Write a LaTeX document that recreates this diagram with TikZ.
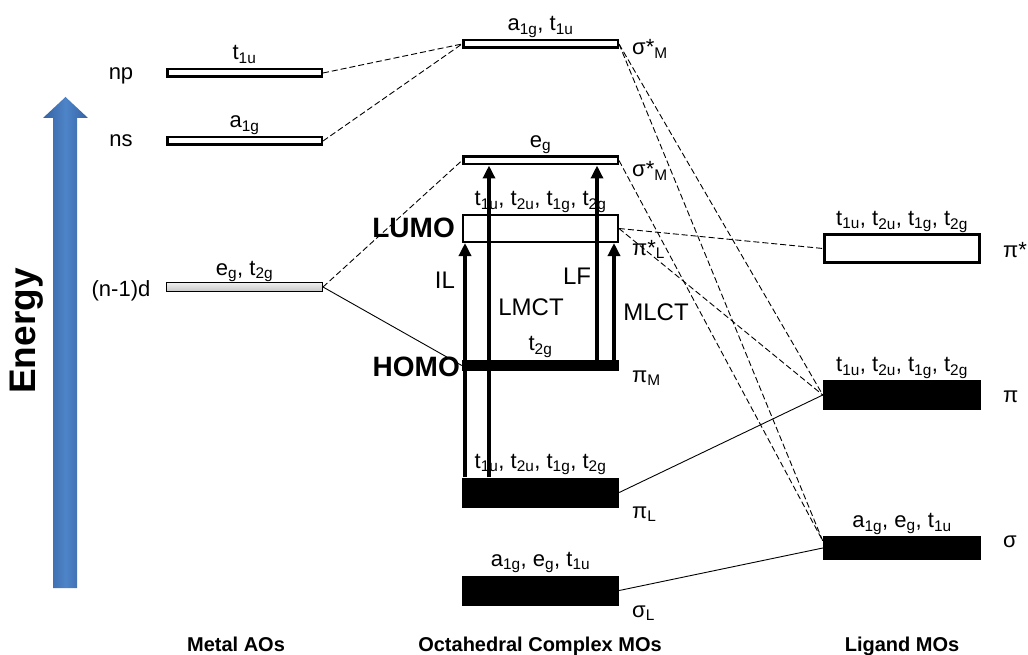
\documentclass[tikz,border=0pt]{standalone}
\usepackage{fontspec}
\setmainfont{Liberation Sans}
\usetikzlibrary{arrows.meta}
\definecolor{blueL}{RGB}{78,132,200}
\definecolor{blueD}{RGB}{52,98,164}
\newcommand\sbs[1]{\textsubscript{#1}}
\begin{document}
\begin{tikzpicture}[x=1pt,y=-1pt,
  lvlopen/.style={draw=black, line width=2.5pt, fill=white, inner sep=0pt, minimum width=154.5pt, minimum height=7.5pt},
  lvlblack/.style={draw=none, fill=black, inner sep=0pt, minimum width=157pt},
  lab/.style={font=\fontsize{22}{26}\selectfont, inner sep=0pt},
  arrlab/.style={font=\fontsize{24}{28}\selectfont, inner sep=0pt},
  bigbold/.style={font=\fontsize{28}{32}\selectfont\bfseries, inner sep=0pt},
  title/.style={font=\fontsize{20}{24}\selectfont\bfseries, inner sep=0pt},
  dconn/.style={line width=0.9pt, dash pattern=on 6pt off 3pt},
  sconn/.style={line width=0.9pt},
  trans/.style={line width=4pt, -{Triangle[width=12pt,length=13pt]}}
]
\useasboundingbox (0,0) rectangle (1028,655);

% energy arrow
\shade[left color=blueD, right color=blueD, middle color=blueL]
  (53,588) -- (53,118) -- (43,118) -- (65.5,97) -- (88,118) -- (77,118) -- (77,588) -- cycle;
\node[font=\fontsize{37}{40}\selectfont\bfseries, rotate=90, inner sep=0pt] (energy) at (27,331) {Energy};

% metal AOs
\node[lvlopen] (np) at (244.5,73) {};
\node[lvlopen] (ns) at (244.5,141) {};
\node[draw=black, line width=1pt, top color=gray!12, bottom color=gray!45, inner sep=0pt, minimum width=156pt, minimum height=9pt] (dd) at (244.5,287) {};

% complex MOs
\node[lvlopen] (sA) at (540.5,44) {};
\node[lvlopen] (sE) at (540.5,160.5) {};
\node[lvlopen, line width=2pt, minimum height=27pt, minimum width=155pt] (lumo) at (540.5,228.5) {};
\node[lvlblack, minimum height=11pt] (homo) at (540.5,365.5) {};
\node[lvlblack, minimum height=30pt] (piL) at (540.5,492.5) {};
\node[lvlblack, minimum height=30pt] (sigL) at (540.5,590.5) {};

% ligand MOs
\node[lvlopen, line width=3pt, minimum width=155pt, minimum height=27pt] (pist) at (902,248.5) {};
\node[lvlblack, minimum width=158pt, minimum height=30pt] (pi) at (902,395) {};
\node[lvlblack, minimum width=158pt, minimum height=24pt] (sig) at (902,548) {};

% connectors
\draw[dconn] (np.east) -- (sA.west);
\draw[dconn] (ns.east) -- (sA.west);
\draw[dconn] (dd.east) -- (sE.west);
\draw[sconn] (dd.east) -- (homo.west);
\draw[dconn] (lumo.east) -- (pist.west);
\draw[dconn] (lumo.east) -- (pi.west);
\draw[dconn] (sA.east) -- (pi.west);
\draw[dconn] (sA.east) -- ([yshift=7pt]sig.west);
\draw[dconn] (sE.east) -- ([yshift=7pt]sig.west);
\draw[sconn] (piL.east) -- (pi.west);
\draw[sconn] (sigL.east) -- (sig.west);

% transitions
\coordinate (xIL) at (465,0);
\coordinate (xLMCT) at (489,0);
\coordinate (xLF) at (597,0);
\coordinate (xMLCT) at (614,0);
\draw[trans] (piL.north -| xIL) -- (lumo.south -| xIL);
\draw[trans] (piL.north -| xLMCT) -- (sE.south -| xLMCT);
\draw[trans] (homo.north -| xLF) -- (sE.south -| xLF);
\draw[trans] (homo.north -| xMLCT) -- (lumo.south -| xMLCT);
\node[arrlab] (tIL) at (445,280) {IL};
\node[arrlab] (tLMCT) at (531,307) {LMCT};
\node[arrlab] (tLF) at (577,276) {LF};
\node[arrlab] (tMLCT) at (656,312) {MLCT};

\node[bigbold, anchor=east] (tLUMO) at (455,228) {LUMO};
\node[bigbold, anchor=east] (tHOMO) at (460,367) {HOMO};

% labels above levels
\node[lab, anchor=base] (lnp) at ([yshift=8pt]np.north) {t\sbs{1u}};
\node[lab, anchor=base] (lns) at ([yshift=8pt]ns.north) {a\sbs{1g}};
\node[lab, anchor=base] (ldd) at ([yshift=7pt]dd.north) {e\sbs{g}, t\sbs{2g}};
\node[lab, anchor=base] (lsA) at ([yshift=8pt]sA.north) {a\sbs{1g}, t\sbs{1u}};
\node[lab, anchor=base] (lsE) at ([yshift=8pt]sE.north) {e\sbs{g}};
\node[lab, anchor=base] (llumo) at ([yshift=8pt]lumo.north) {t\sbs{1u}, t\sbs{2u}, t\sbs{1g}, t\sbs{2g}};
\node[lab, anchor=base] (lhomo) at ([yshift=9pt]homo.north) {t\sbs{2g}};
\node[lab, anchor=base] (lpiL) at ([yshift=9pt]piL.north) {t\sbs{1u}, t\sbs{2u}, t\sbs{1g}, t\sbs{2g}};
\node[lab, anchor=base] (lsigL) at ([yshift=9pt]sigL.north) {a\sbs{1g}, e\sbs{g}, t\sbs{1u}};
\node[lab, anchor=base] (lpist) at ([yshift=8pt]pist.north) {t\sbs{1u}, t\sbs{2u}, t\sbs{1g}, t\sbs{2g}};
\node[lab, anchor=base] (lpi) at ([yshift=8pt]pi.north) {t\sbs{1u}, t\sbs{2u}, t\sbs{1g}, t\sbs{2g}};
\node[lab, anchor=base] (lsig) at ([yshift=8pt]sig.north) {a\sbs{1g}, e\sbs{g}, t\sbs{1u}};

% left labels
\node[lab, anchor=base] (nnp) at (121,80) {np};
\node[lab, anchor=base] (nns) at (121,147) {ns};
\node[lab, anchor=base] (ndd) at (121,296) {(n-1)d};

% right labels
\node[lab, anchor=base west] (rsA) at (632,55) {σ*\sbs{M}};
\node[lab, anchor=base west] (rsE) at (632,177) {σ*\sbs{M}};
\node[lab, anchor=base west] (rlumo) at (632,255) {π*\sbs{L}};
\node[lab, anchor=base west] (rhomo) at (632,382) {π\sbs{M}};
\node[lab, anchor=base west] (rpiL) at (632,518) {π\sbs{L}};
\node[lab, anchor=base west] (rsigL) at (632,617) {σ\sbs{L}};
\node[lab, anchor=base west] (rpist) at (1003,257) {π*};
\node[lab, anchor=base west] (rpi) at (1003,402) {π};
\node[lab, anchor=base west] (rsig) at (1003,547) {σ};

% titles
\node[title, anchor=base] (t1) at (236,651) {Metal AOs};
\node[title, anchor=base] (t2) at (540,651) {Octahedral Complex MOs};
\node[title, anchor=base] (t3) at (902,651) {Ligand MOs};
\end{tikzpicture}
\end{document}
